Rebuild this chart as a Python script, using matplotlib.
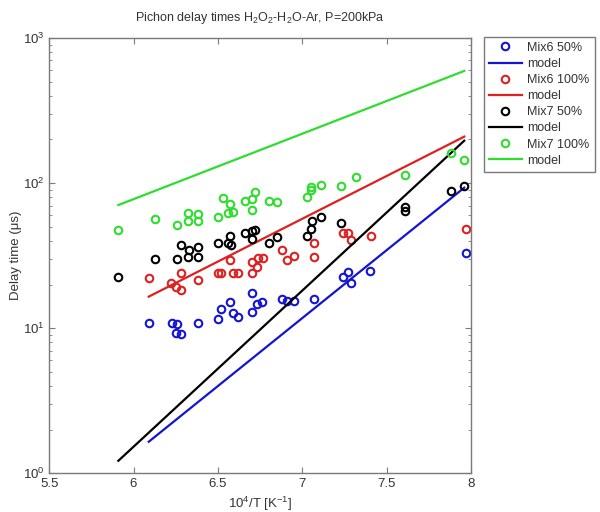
# Pichon delay times, H2O2-H2O-Ar, P=200kPa
import numpy as np
import matplotlib
matplotlib.use('Agg')
import matplotlib.pyplot as plt
from matplotlib.ticker import LogLocator, NullFormatter

plt.rcParams['font.family'] = ['Liberation Sans', 'DejaVu Sans']
plt.rcParams['mathtext.fontset'] = 'custom'
plt.rcParams['mathtext.rm'] = 'Liberation Sans'
plt.rcParams['mathtext.it'] = 'Liberation Sans:italic'

# mesures Mix6 50%
mix6_50_x = [6.09, 6.23, 6.26, 6.25, 6.28, 6.38, 6.50, 6.52, 6.57, 6.59, 6.62, 6.70,
             6.70, 6.73, 6.76, 6.88, 6.91, 6.95, 7.07, 7.24, 7.27, 7.29, 7.40, 7.97]
mix6_50_y = [10.9, 10.8, 10.7, 9.2, 9.1, 10.9, 11.5, 13.5, 15.2, 12.7, 11.9, 17.4,
             12.9, 14.6, 15.1, 15.9, 15.3, 15.4, 15.9, 22.4, 24.3, 20.6, 24.7, 32.8]

# mesures Mix6 100%
mix6_100_x = [6.09, 6.22, 6.25, 6.28, 6.28, 6.38, 6.50, 6.52, 6.57, 6.59, 6.62, 6.70,
              6.70, 6.73, 6.74, 6.77, 6.88, 6.91, 6.95, 7.07, 7.07, 7.24, 7.27, 7.29,
              7.41, 7.97]
mix6_100_y = [22.1, 20.6, 19.3, 23.9, 18.3, 21.5, 23.9, 23.9, 29.5, 23.9, 23.9, 23.9,
              28.7, 26.5, 30.3, 30.3, 34.6, 29.5, 31.5, 38.5, 30.8, 45.5, 45.0, 40.6,
              43.2, 48.6]

# mesures Mix7 50%
mix7_50_x = [5.91, 6.13, 6.26, 6.28, 6.33, 6.32, 6.38, 6.38, 6.50, 6.57, 6.56, 6.58,
             6.66, 6.70, 6.72, 6.70, 6.80, 6.85, 7.03, 7.05, 7.06, 7.11, 7.23, 7.61,
             7.61, 7.88, 7.96]
mix7_50_y = [22.6, 29.9, 29.9, 37.4, 34.6, 31.1, 36.1, 30.8, 38.5, 43.4, 38.5, 37.4,
             45.1, 46.8, 47.3, 41.2, 38.5, 42.8, 43.2, 48.1, 55.1, 58.1, 52.8, 68.7,
             64.5, 88.3, 96.0]

# mesures Mix7 100%
mix7_100_x = [5.91, 6.13, 6.26, 6.32, 6.32, 6.38, 6.38, 6.50, 6.53, 6.57, 6.56, 6.59,
              6.66, 6.70, 6.72, 6.70, 6.80, 6.85, 7.03, 7.05, 7.05, 7.11, 7.23, 7.32,
              7.61, 7.88, 7.96]
mix7_100_y = [47.5, 56.2, 51.4, 62.5, 55.1, 61.0, 55.1, 58.6, 79.3, 71.8, 61.9, 63.5,
              75.7, 77.3, 86.4, 65.3, 75.7, 74.5, 79.8, 94.4, 89.6, 97.0, 95.5, 110.6,
              113.7, 160.4, 144.3]

# modeles (droites d'Arrhenius, extremites)
model_mix6_50_x = [6.09, 7.96]
model_mix6_50_y = [1.65, 93.0]
model_mix6_100_x = [6.09, 7.96]
model_mix6_100_y = [16.5, 209.0]
model_mix7_50_x = [5.91, 7.96]
model_mix7_50_y = [1.22, 196.0]
model_mix7_100_x = [5.91, 7.96]
model_mix7_100_y = [70.6, 593.0]

blue = '#1414d2'
red = '#e02020'
black = '#000000'
green = '#2ede2e'

fig = plt.figure(figsize=(6, 5.12), dpi=100)
ax = fig.add_axes([0.082, 0.0756, 0.703, 0.8502])

ms = 5.4
mew = 1.5
lw = 1.6
ax.plot(mix6_50_x, mix6_50_y, 'o', mfc='none', mec=blue, ms=ms, mew=mew, label='Mix6 50%')
ax.plot(model_mix6_50_x, model_mix6_50_y, '-', color=blue, lw=lw, label='model')
ax.plot(mix6_100_x, mix6_100_y, 'o', mfc='none', mec=red, ms=ms, mew=mew, label='Mix6 100%')
ax.plot(model_mix6_100_x, model_mix6_100_y, '-', color=red, lw=lw, label='model')
ax.plot(mix7_50_x, mix7_50_y, 'o', mfc='none', mec=black, ms=ms, mew=mew, label='Mix7 50%')
ax.plot(model_mix7_50_x, model_mix7_50_y, '-', color=black, lw=lw, label='model')
ax.plot(mix7_100_x, mix7_100_y, 'o', mfc='none', mec=green, ms=ms, mew=mew, label='Mix7 100%')
ax.plot(model_mix7_100_x, model_mix7_100_y, '-', color=green, lw=lw, label='model')

ax.set_yscale('log')
ax.set_xlim(5.5, 8)
ax.set_ylim(1, 1000)
ax.set_xticks([5.5, 6, 6.5, 7, 7.5, 8])
ax.set_xticklabels(['5.5', '6', '6.5', '7', '7.5', '8'])
ax.yaxis.set_major_locator(LogLocator(base=10, numticks=10))
ax.yaxis.set_minor_locator(LogLocator(base=10, subs=np.arange(2, 10), numticks=10))
ax.yaxis.set_minor_formatter(NullFormatter())

gris = '#7a7a7a'
txt = '#333333'
for s in ax.spines.values():
    s.set_color(gris)
    s.set_linewidth(1.0)
ax.tick_params(which='both', direction='in', top=True, right=True, colors=gris,
               labelcolor=txt, labelsize=9.5)
ax.tick_params(which='major', length=4)
ax.tick_params(which='minor', length=2.5)

ax.set_title('Pichon delay times H$_2$O$_2$-H$_2$O-Ar, P=200kPa', fontsize=9, color=txt, pad=12)
ax.set_xlabel('10$^4$/T [K$^{-1}$]', fontsize=9.5, color=txt, labelpad=3)
ax.set_ylabel('Delay time (μs)', fontsize=9.5, color=txt)
ax.yaxis.set_label_coords(-0.064, 0.5)

leg = fig.legend(loc='upper left', bbox_to_anchor=(0.807, 0.928), fontsize=9,
                 frameon=True, fancybox=False, framealpha=1, edgecolor=gris,
                 handlelength=2.6, labelspacing=0.33, handletextpad=0.45,
                 borderpad=0.4, borderaxespad=0)
leg.get_frame().set_linewidth(1.0)
for t in leg.get_texts():
    t.set_color(txt)

fig.savefig('out.png', dpi=100)
